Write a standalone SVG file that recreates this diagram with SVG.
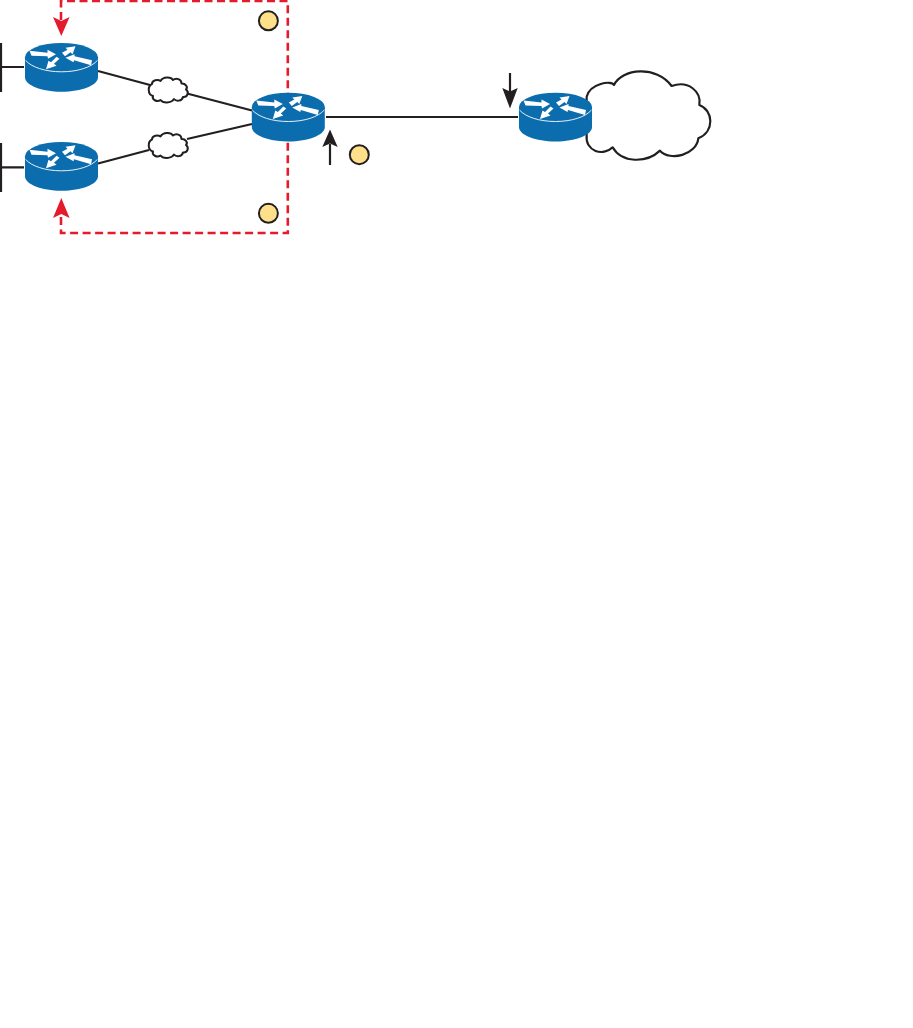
<svg xmlns="http://www.w3.org/2000/svg" xmlns:xlink="http://www.w3.org/1999/xlink" width="913" height="1028" viewBox="0 0 913 1028">
<style>
.ln{stroke:#231f20;stroke-width:2.200;fill:none}
.dash{stroke:#e31b2d;stroke-width:2.600;fill:none;stroke-dasharray:8 4.500}
.cl{stroke:#231f20;fill:#fff;stroke-linejoin:round}
.dot{fill:#fee08b;stroke:#231f20;stroke-width:2}
.red{fill:#e31b2d}
.blk{fill:#231f20}
</style>
<defs>
<g id="router">
<path d="M-36.500 0V20C-36.500 28-20 34.500 0 34.500S36.500 28 36.500 20V0Z" fill="#0b6cae"/>
<ellipse cx="0" cy="0" rx="36.500" ry="14.300" fill="#0b6cae"/>
<path d="M-36 3C-30 10-16 14.500 0 14.500S30 10 36 3" fill="none" stroke="#fff" stroke-width="0.900"/>
<g fill="#fff">
<polygon points="-32,-6.500 -14,-4.500 -14,-7.500 -5.500,-3 -13.500,1.500 -14,-1 -30,-1.500"/>
<polygon points="0.500,-4.500 6,-7.500 4,-9.500 14,-11 11,-3 9,-5 3.500,-1"/>
<polygon points="-2,1.500 -7.500,6.500 -5,8.500 -15.500,12 -13,3.500 -10.500,5 -5,-0.500"/>
<polygon points="30.500,3 13,-1 13,-3 4,0.500 12,5 12.500,3 29.500,8"/>
</g>
</g>
<path id="smallcloud" d="M-16-6C-16-10-10-11-7.500-9C-5-13.500 3-13.500 5-10C8-12.500 13.500-11 13.500-6.500C17-7 20.500-3 18-0.500C21.500 2 19.500 7.500 15 7C14 11.500 8 11.500 6 9C3 13.500-5 13.500-7.500 10C-11 12.500-16.500 9.500-15 6C-20.500 4.500-20.500-4-16-6Z"/>
</defs>

<g id="connectors">
<path class="dash" d="M61 20V1H287.800V233H61V214"/>
<polygon class="red" points="61.300,36 53,17 61.300,21 69.600,17"/>
<polygon class="red" points="61.300,198 53,218 61.300,214 69.600,218"/>
<path class="ln" d="M1 43V92M1 143V192M2 67H24M2 167.300H24"/>
<path class="ln" d="M98 71L150 85M187 93.500L252 110.500M98 163.500L149 150M187 139L252 124M326 117H518"/>
<path class="ln" d="M330 165V144M510 73V92"/>
<polygon class="blk" points="330,129.500 322.300,147 330,143.500 337.700,147"/>
<polygon class="blk" points="510,108.500 502.300,88 510,91.500 517.700,88"/>
</g>

<g id="cloud-wan">
<path transform="translate(490 60) scale(.3333)" class="cl" stroke-width="6.500" d="M290 110C300 70 365 60 372 75C395 25 500 15 545 78C595 60 635 95 628 135C670 150 675 215 625 235C620 285 540 305 510 272C470 310 395 310 368 262C340 290 285 275 290 225Z"/>
</g>
<g id="cloud-top"><use xlink:href="#smallcloud" href="#smallcloud" x="168" y="90" class="cl" stroke-width="2"/></g>
<g id="cloud-bottom"><use xlink:href="#smallcloud" href="#smallcloud" x="168" y="145.500" class="cl" stroke-width="2"/></g>

<g id="router-top-left"><use xlink:href="#router" href="#router" x="61.500" y="57.300"/></g>
<g id="router-bottom-left"><use xlink:href="#router" href="#router" x="61.500" y="156.300"/></g>
<g id="router-center"><use xlink:href="#router" href="#router" x="288.300" y="107"/></g>
<g id="router-right"><use xlink:href="#router" href="#router" x="555.500" y="107"/></g>

<g id="marker-1"><circle class="dot" cx="268.400" cy="20.800" r="9.500"/></g>
<g id="marker-2"><circle class="dot" cx="268.400" cy="213.300" r="9.500"/></g>
<g id="marker-3"><circle class="dot" cx="359.300" cy="154.700" r="9.500"/></g>
</svg>
